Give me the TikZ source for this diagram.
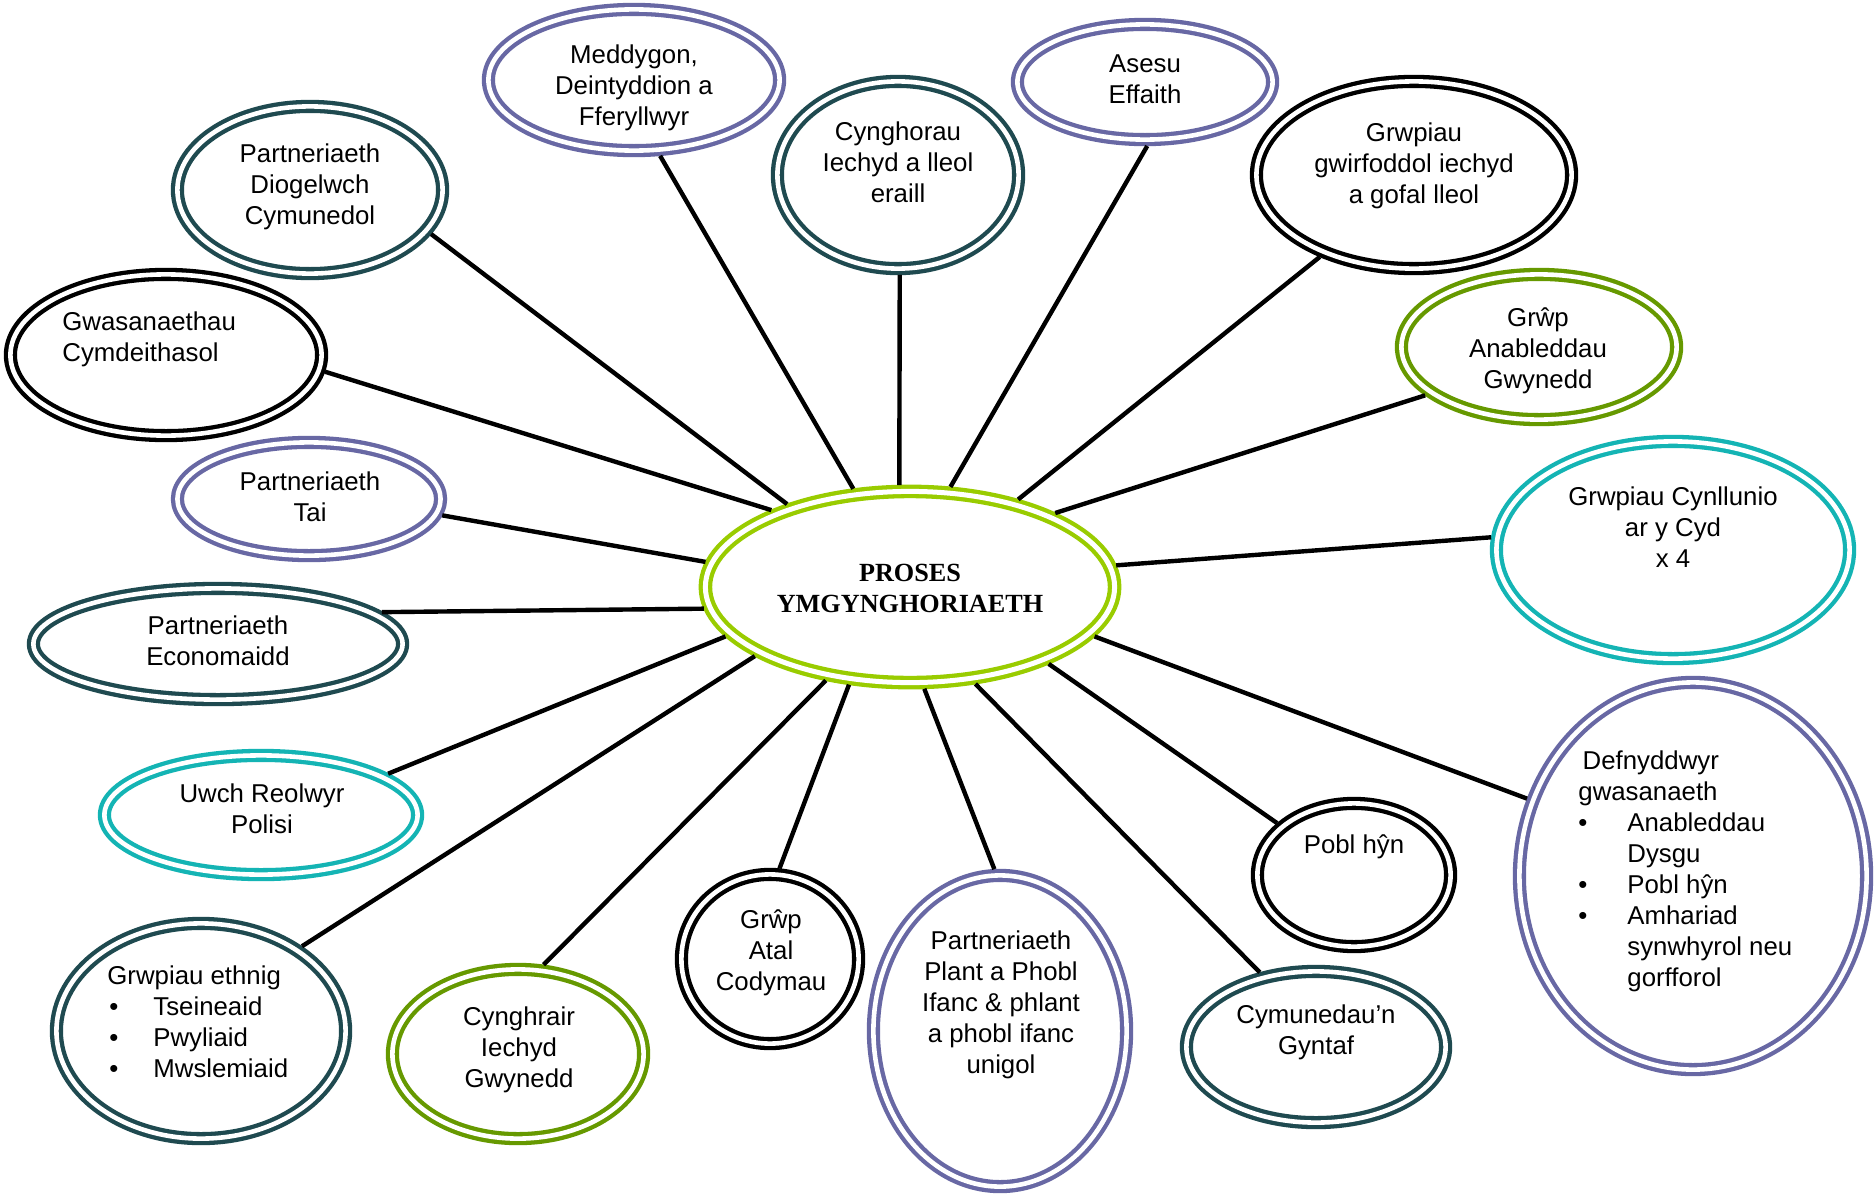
\documentclass[tikz,border=0pt]{standalone}
\usepackage{fontspec}
\setmainfont{Liberation Sans}
\newfontfamily\serifbf{Liberation Serif}
\usetikzlibrary{shapes.geometric}
\definecolor{cpurple}{HTML}{6868A4}
\definecolor{cteal}{HTML}{1F4A50}
\definecolor{cgreen}{HTML}{669900}
\definecolor{clime}{HTML}{99CC00}
\definecolor{ccyan}{HTML}{14B4B4}
\newcommand\mybul{\makebox[23pt][l]{\hspace{1pt}\textbullet}}
\newcommand\mybulb{\makebox[24.5pt][l]{\textbullet}}
\tikzset{
  ring/.style={ellipse, draw=#1, line width=2.15pt, double=white, double distance=2.3pt, inner sep=0pt, outer sep=3.2pt},
  lbl/.style={align=center, font=\fontsize{12.9}{15.5}\selectfont, inner sep=0pt},
  conn/.style={line width=2.2pt, draw=black},
}
\begin{document}
\begin{tikzpicture}[x=0.5pt, y=-0.5pt]
\path[use as bounding box, fill=white] (0,0) rectangle (1874,1199);

% central
\node[ring=clime, double distance=2.5pt, minimum width=204.6pt, minimum height=95.6pt] (cen) at (910,587) {};
\node[align=center, inner sep=0pt, font=\serifbf\bfseries\fontsize{13.1}{15.5}\selectfont] (cent) at (910,588) {PROSES\\YMGYNGHORIAETH};

% outer ellipses
\node[ring=cpurple, minimum width=145.6pt, minimum height=70.6pt] (med) at (634,80) {};
\node[lbl] (medt) at (634,88) {Meddygon,\\Deintyddion a\\Fferyllwyr};

\node[ring=cteal, minimum width=120.6pt, minimum height=93.6pt] (cyng) at (898,175) {};
\node[lbl] (cyngt) at (898,162) {Cynghorau\\Iechyd a lleol\\eraill};

\node[ring=cpurple, minimum width=127.6pt, minimum height=57.6pt] (ases) at (1145,82) {};
\node[lbl] (asest) at (1145,79) {Asesu\\Effaith};

\node[ring=black, minimum width=157.6pt, minimum height=93.6pt] (gwir) at (1414,175) {};
\node[lbl] (gwirt) at (1414,166) {Grwpiau\\gwirfoddol iechyd\\a gofal lleol};

\node[ring=cteal, minimum width=132.6pt, minimum height=83.6pt] (diog) at (310,190) {};
\node[lbl] (diogt) at (310,187) {Partneriaeth\\Diogelwch\\Cymunedol};

\node[ring=black, minimum width=155.6pt, minimum height=80.6pt] (gwas) at (166,355) {};
\node[lbl, align=left, anchor=west] (gwast) at (62,339) {Gwasanaethau\\Cymdeithasol};

\node[ring=cgreen, minimum width=137.6pt, minimum height=72.6pt] (anab) at (1539,347) {};
\node[lbl] (anabt) at (1538,351) {Grŵp\\Anableddau\\Gwynedd};

\node[ring=cpurple, minimum width=131.6pt, minimum height=56.6pt] (tai) at (309,499) {};
\node[lbl] (tait) at (310,497) {Partneriaeth\\Tai};

\node[ring=ccyan, minimum width=176.6pt, minimum height=108.6pt] (cynl) at (1673,550) {};
\node[lbl] (cynlt) at (1673,527) {Grwpiau Cynllunio\\ar y Cyd\\x 4};

\node[ring=cteal, minimum width=184.6pt, minimum height=55.6pt] (econ) at (218,644) {};
\node[lbl] (econt) at (218,641) {Partneriaeth\\Economaidd};

\node[ring=ccyan, minimum width=156.6pt, minimum height=59.6pt] (uwch) at (261,815) {};
\node[lbl] (uwcht) at (262,809) {Uwch Reolwyr\\Polisi};

\node[ring=cteal, minimum width=144.6pt, minimum height=107.6pt] (ethn) at (201,1031) {};
\node[lbl, align=left, anchor=west] (ethnt) at (107,1022) {Grwpiau ethnig\\\mybul Tseineaid\\\mybul Pwyliaid\\\mybul Mwslemiaid};

\node[ring=cgreen, minimum width=125.6pt, minimum height=84.6pt] (cygh) at (518,1054) {};
\node[lbl] (cyght) at (519,1050) {Cynghrair\\Iechyd\\Gwynedd};

\node[ring=black, minimum width=88.6pt, minimum height=84.6pt] (atal) at (770,959) {};
\node[lbl] (atalt) at (771,953) {Grŵp\\Atal\\Codymau};

\node[ring=cpurple, minimum width=126.6pt, minimum height=155.6pt] (plnt) at (1000,1031) {};
\node[lbl] (plntt) at (1001,1005) {Partneriaeth\\Plant a Phobl\\Ifanc \& phlant\\a phobl ifanc\\unigol};

\node[ring=black, minimum width=96.6pt, minimum height=71.6pt] (pobl) at (1354,875) {};
\node[lbl] (poblt) at (1354,847) {Pobl hŷn};

\node[ring=cteal, minimum width=129.6pt, minimum height=75.6pt] (cymu) at (1316,1047) {};
\node[lbl] (cymut) at (1316,1032) {Cymunedau’n\\Gyntaf};

\node[ring=cpurple, minimum width=173.6pt, minimum height=193.6pt] (defn) at (1693,876) {};
\node[lbl, align=left, anchor=west] (defnt) at (1578,871) {\,Defnyddwyr\\gwasanaeth\\\mybulb Anableddau\\\hspace*{24.5pt}Dysgu\\\mybulb Pobl hŷn\\\mybulb Amhariad\\\hspace*{24.5pt}synwhyrol neu\\\hspace*{24.5pt}gorfforol};

% connectors
\draw[conn] (med.-71.1) -- (cen.120.8);
\draw[conn] (cyng.-89) -- (cen.96.9);
\draw[conn] (ases.-88) -- (cen.68.6);
\draw[conn] (gwir.221.9) -- (cen.39.9);
\draw[conn] (diog.-20.4) -- (cen.146.5);
\draw[conn] (gwas.-6.4) -- (cen.151.2);
\draw[conn] (anab.203.4) -- (cen.27.8);
\draw[conn] (tai.-7.1) -- (cen.173.0);
\draw[conn] (cynl.176.5) -- (cen.6.9);
\draw[conn] (econ.11.9) -- (cen.186.7);
\draw[conn] (uwch.18.8) -- (cen.195.4);
\draw[conn] (ethn.40.7) -- (cen.204.6);
\draw[conn] (cygh.74.1) -- (cen.228.8);
\draw[conn] (atal.84.1) -- (cen.238.6);
\draw[conn] (plnt.92.5) -- (cen.278);
\draw[conn] (pobl.146.3) -- (cen.-29.2);
\draw[conn] (cymu.127.5) -- (cen.-56.6);
\draw[conn] (defn.155.6) -- (cen.-15.5);
\end{tikzpicture}
\end{document}
